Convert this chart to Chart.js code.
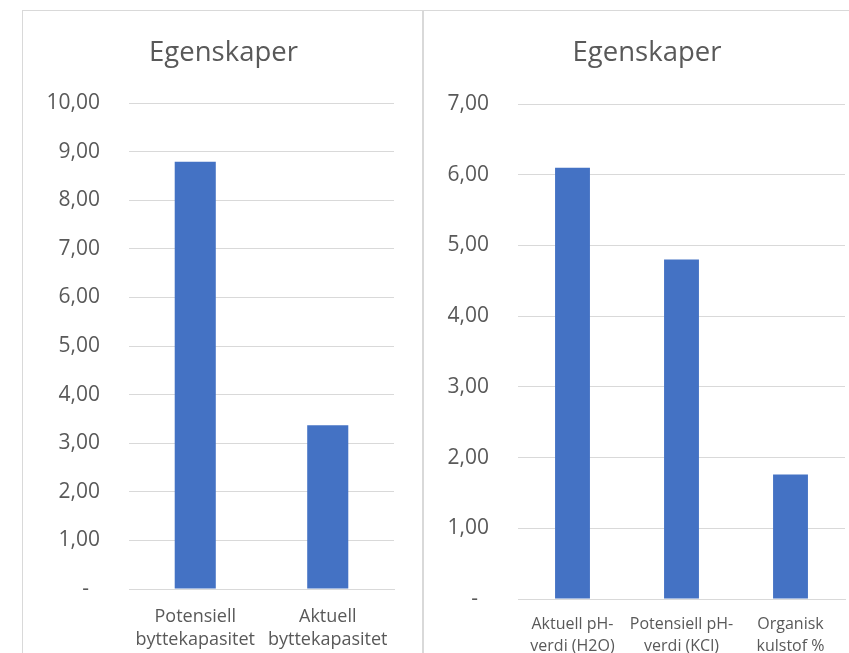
<!DOCTYPE html>
<html>
<head>
<meta charset="utf-8">
<script src="https://cdn.jsdelivr.net/npm/chart.js@4.4.1/dist/chart.umd.min.js"></script>
<style>
  body { margin: 0; background: #fff; width: 849px; height: 653px; overflow: hidden; position: relative; }
  .panel { position: absolute; top: 10px; border: 1px solid #d9d9d9; border-bottom: none; box-sizing: border-box; }
  #leftPanel { left: 22px; width: 402px; height: 653px; }
  #rightPanel { left: 422px; width: 470px; height: 653px; border-right: none; }
  canvas { position: absolute; top: 0; left: 0; }
</style>
</head>
<body>
<div class="panel" id="leftPanel"><canvas id="leftChart"></canvas></div>
<div class="panel" id="rightPanel"><canvas id="rightChart"></canvas></div>
<script>
// Data
const kapasitetLabels = [['Potensiell', 'byttekapasitet'], ['Aktuell', 'byttekapasitet']];
const kapasitetValues = [8.79, 3.37];
const kapasitetMax = 10;

const phLabels = [['Aktuell pH-', 'verdi (H2O)'], ['Potensiell pH-', 'verdi (KCl)'], ['Organisk', 'kulstof %']];
const phValues = [6.10, 4.80, 1.76];
const phMax = 7;

const tittel = 'Egenskaper';
const font = "'Open Sans', sans-serif";
const grey = '#595959';

// regnskapsformat: 0 vises som "-"
function formatTick(value) {
    if (value === 0) return '-\u00a0\u00a0';
    return value.toFixed(2).replace('.', ',');
}

// cfg: størrelser for hvert diagram
function lagChart(id, labels, values, max, cfg) {
    const canvas = document.getElementById(id);
    canvas.width = cfg.width;
    canvas.height = 643;
    canvas.style.width = cfg.width + 'px';
    canvas.style.height = '643px';
    return new Chart(canvas, {
        type: 'bar',
        data: {
            labels: labels,
            datasets: [{
                data: values,
                backgroundColor: '#4472C4',
                borderWidth: 0,
                categoryPercentage: 1,
                barPercentage: cfg.barPct
            }]
        },
        options: {
            responsive: false,
            animation: false,
            layout: { padding: 0 },
            plugins: {
                legend: { display: false },
                tooltip: { enabled: false },
                title: {
                    display: true,
                    text: tittel,
                    color: grey,
                    font: { family: font, size: 27.5, weight: 'normal', lineHeight: 1.2 },
                    padding: { top: 25.5, bottom: cfg.titleBottom }
                }
            },
            scales: {
                x: {
                    grid: { display: false },
                    border: { color: '#d9d9d9', width: 1 },
                    ticks: {
                        color: grey,
                        font: { family: font, size: cfg.xFont, lineHeight: cfg.xLine },
                        maxRotation: 0,
                        autoSkip: false,
                        padding: cfg.xPad
                    },
                    afterFit: function(scale) { scale.height = cfg.xHeight; }
                },
                y: {
                    min: 0,
                    max: max,
                    grid: { color: '#d9d9d9', drawTicks: false, lineWidth: 1 },
                    border: { display: false },
                    ticks: {
                        stepSize: 1,
                        color: grey,
                        font: { family: font, size: 21 },
                        padding: 29,
                        callback: function(value) { return formatTick(value); }
                    },
                    afterFit: function(scale) { scale.width = cfg.yWidth; }
                },
                // tom akse til høyre, bare for luft
                luft: {
                    position: 'right',
                    grid: { display: false },
                    border: { display: false },
                    ticks: { display: false },
                    afterFit: function(scale) { scale.width = cfg.rightGap; }
                }
            }
        }
    });
}

lagChart('leftChart', kapasitetLabels, kapasitetValues, kapasitetMax, {
    width: 401, yWidth: 106, rightGap: 30, xHeight: 65,
    xFont: 18, xLine: 1.3, xPad: 8, titleBottom: 33.5, barPct: 0.31
});
lagChart('rightChart', phLabels, phValues, phMax, {
    width: 448, yWidth: 95, rightGap: 26, xHeight: 55,
    xFont: 16, xLine: 1.4, xPad: 6, titleBottom: 34.5, barPct: 0.32
});
</script>
</body>
</html>
